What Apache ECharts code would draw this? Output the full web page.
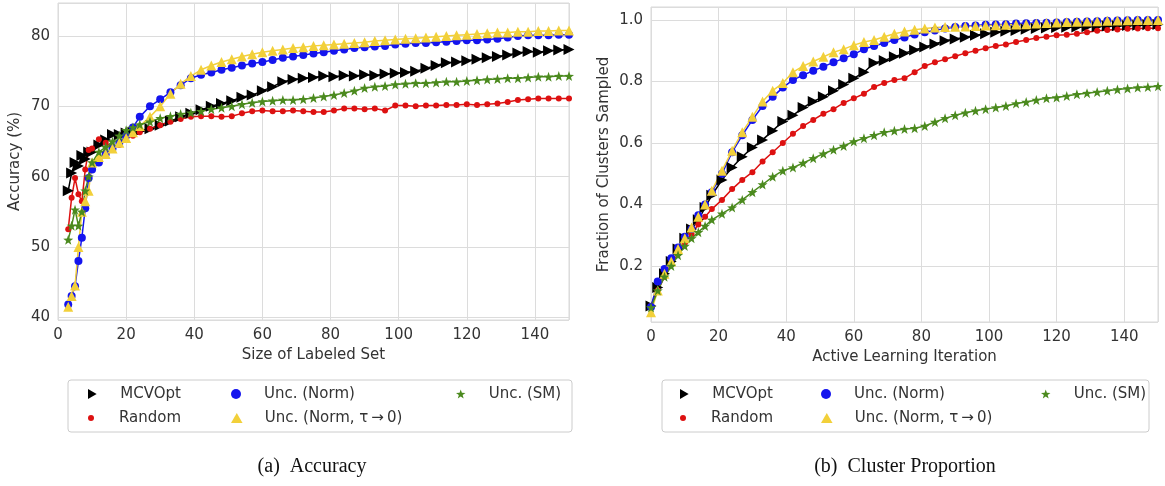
<!DOCTYPE html>
<html>
<head>
<meta charset="utf-8">
<script src="https://cdn.jsdelivr.net/npm/echarts@6/dist/echarts.min.js"></script>
<style>
html, body { margin: 0; padding: 0; background: #fff; }
#chart { width: 1165px; height: 486px; }
</style>
</head>
<body>
<div id="chart"></div>
<script>
// (a) Accuracy vs size of labeled set
const labeledSize = [3, 4, 5, 6, 7, 8, 9, 10, 12, 14, 16, 18, 20, 22, 24, 27, 30, 33, 36, 39, 42, 45, 48, 51, 54, 57, 60, 63, 66, 69, 72, 75, 78, 81, 84, 87, 90, 93, 96, 99, 102, 105, 108, 111, 114, 117, 120, 123, 126, 129, 132, 135, 138, 141, 144, 147, 150];
const accMCVOpt = [58, 60.5, 62, 61.5, 63, 62.5, 63.5, 63.5, 64.5, 65.2, 66, 66, 66.2, 66.3, 66.5, 66.8, 67.3, 67.9, 68.5, 69, 69.5, 70, 70.4, 70.8, 71.3, 71.6, 72.2, 72.8, 73.5, 73.8, 74, 74.1, 74.3, 74.2, 74.4, 74.3, 74.5, 74.4, 74.6, 74.7, 74.8, 75, 75.4, 75.8, 76.2, 76.3, 76.5, 76.7, 76.9, 77.1, 77.3, 77.6, 77.8, 77.7, 77.9, 78, 78.1];
const accRandom = [52.5, 57, 59.8, 57.5, 56.5, 61, 63.8, 64, 65.3, 64.8, 64.2, 64.5, 65.5, 65.8, 66.3, 66.8, 67.3, 67.8, 68.2, 68.5, 68.6, 68.6, 68.5, 68.6, 69, 69.3, 69.4, 69.3, 69.3, 69.4, 69.3, 69.2, 69.2, 69.4, 69.7, 69.7, 69.6, 69.7, 69.4, 70.1, 70.1, 70, 70.1, 70.1, 70.2, 70.2, 70.3, 70.2, 70.3, 70.4, 70.6, 70.9, 71, 71.1, 71.1, 71.1, 71.1];
const accNorm = [41.8, 43, 44.4, 48, 51.3, 55.5, 59.8, 61, 62, 63.2, 64, 64.8, 65.8, 67, 68.5, 70, 71, 72, 73, 74, 74.5, 74.8, 75.2, 75.5, 75.8, 76.1, 76.3, 76.6, 76.9, 77.1, 77.3, 77.5, 77.7, 77.9, 78.1, 78.3, 78.4, 78.5, 78.6, 78.8, 78.9, 79, 79, 79.1, 79.2, 79.3, 79.4, 79.4, 79.5, 79.6, 79.8, 80, 80.1, 80.1, 80.1, 80.2, 80.2];
const accNormT0 = [41.5, 43, 44.5, 50, 55, 56.5, 58, 62, 62.8, 63.2, 64, 64.8, 65.5, 66.3, 67.2, 68.5, 70, 71.8, 73.2, 74.3, 75.2, 75.8, 76.3, 76.7, 77.1, 77.4, 77.7, 77.9, 78.1, 78.3, 78.4, 78.6, 78.7, 78.8, 78.9, 79, 79.1, 79.3, 79.4, 79.5, 79.6, 79.7, 79.8, 79.9, 80, 80.1, 80.2, 80.3, 80.4, 80.5, 80.5, 80.6, 80.6, 80.7, 80.7, 80.8, 80.8];
const accSM = [51, 53, 55.3, 53, 55, 58, 60, 62, 63.5, 64.2, 65, 65.8, 66.6, 67, 67.4, 67.8, 68.3, 68.6, 68.9, 69.1, 69.3, 69.6, 69.8, 70, 70.3, 70.5, 70.7, 70.8, 70.9, 70.9, 71, 71.2, 71.4, 71.6, 71.9, 72.2, 72.6, 72.8, 72.9, 73.1, 73.2, 73.3, 73.3, 73.4, 73.5, 73.5, 73.6, 73.7, 73.8, 73.9, 74, 74, 74.1, 74.2, 74.2, 74.3, 74.3];

// (b) Fraction of clusters sampled vs active learning iteration
const iteration = [0, 2, 4, 6, 8, 10, 12, 14, 16, 18, 21, 24, 27, 30, 33, 36, 39, 42, 45, 48, 51, 54, 57, 60, 63, 66, 69, 72, 75, 78, 81, 84, 87, 90, 93, 96, 99, 102, 105, 108, 111, 114, 117, 120, 123, 126, 129, 132, 135, 138, 141, 144, 147, 150];
const fracMCVOpt = [0.07, 0.13, 0.175, 0.215, 0.255, 0.29, 0.32, 0.35, 0.39, 0.43, 0.48, 0.52, 0.555, 0.585, 0.61, 0.64, 0.67, 0.69, 0.715, 0.735, 0.75, 0.77, 0.79, 0.81, 0.83, 0.86, 0.868, 0.88, 0.892, 0.902, 0.912, 0.922, 0.932, 0.938, 0.944, 0.95, 0.955, 0.96, 0.963, 0.966, 0.97, 0.972, 0.974, 0.975, 0.976, 0.977, 0.978, 0.979, 0.98, 0.981, 0.982, 0.983, 0.984, 0.985];
const fracRandom = [0.07, 0.12, 0.165, 0.205, 0.24, 0.275, 0.305, 0.335, 0.36, 0.385, 0.415, 0.45, 0.48, 0.505, 0.54, 0.57, 0.6, 0.63, 0.655, 0.675, 0.695, 0.71, 0.73, 0.745, 0.76, 0.782, 0.795, 0.805, 0.81, 0.83, 0.85, 0.862, 0.872, 0.882, 0.892, 0.9, 0.908, 0.915, 0.92, 0.928, 0.935, 0.941, 0.945, 0.95, 0.952, 0.955, 0.96, 0.965, 0.967, 0.969, 0.971, 0.972, 0.973, 0.973];
const fracNorm = [0.067, 0.15, 0.19, 0.225, 0.26, 0.295, 0.32, 0.365, 0.4, 0.44, 0.5, 0.57, 0.625, 0.675, 0.72, 0.75, 0.78, 0.805, 0.82, 0.835, 0.848, 0.862, 0.875, 0.888, 0.905, 0.915, 0.925, 0.935, 0.943, 0.953, 0.96, 0.966, 0.972, 0.977, 0.98, 0.982, 0.984, 0.985, 0.986, 0.988, 0.989, 0.99, 0.991, 0.992, 0.993, 0.994, 0.995, 0.996, 0.997, 0.998, 0.999, 1, 1, 1];
const fracNormT0 = [0.05, 0.12, 0.175, 0.215, 0.255, 0.29, 0.325, 0.36, 0.4, 0.445, 0.51, 0.575, 0.635, 0.685, 0.735, 0.77, 0.795, 0.83, 0.85, 0.865, 0.88, 0.895, 0.905, 0.918, 0.928, 0.935, 0.945, 0.955, 0.962, 0.968, 0.972, 0.975, 0.977, 0.978, 0.979, 0.98, 0.982, 0.983, 0.984, 0.985, 0.986, 0.988, 0.99, 0.992, 0.993, 0.994, 0.995, 0.996, 0.997, 0.998, 0.999, 1, 1, 1];
const fracSM = [0.065, 0.12, 0.165, 0.2, 0.235, 0.265, 0.29, 0.31, 0.33, 0.35, 0.37, 0.39, 0.415, 0.44, 0.465, 0.49, 0.51, 0.52, 0.535, 0.55, 0.565, 0.578, 0.59, 0.605, 0.615, 0.625, 0.635, 0.64, 0.645, 0.648, 0.655, 0.668, 0.68, 0.69, 0.698, 0.705, 0.71, 0.715, 0.72, 0.728, 0.733, 0.74, 0.745, 0.748, 0.753, 0.758, 0.762, 0.766, 0.77, 0.774, 0.777, 0.78, 0.782, 0.784];

const methodNames = ['MCVOpt', 'Random', 'Unc. (Norm)', 'Unc. (Norm, τ\u2009→\u20090)', 'Unc. (SM)'];

const FONT = 'DejaVu Sans';
const TRI_RIGHT = 'path://M0,0 L8.66,5 L0,10 Z';
const TRI_UP = 'path://M5,0 L10,8.66 L0,8.66 Z';
const STAR = 'path://M50,0 L61.76,33.82 L97.55,34.55 L69.02,56.18 L79.39,90.45 L50,70 L20.61,90.45 L30.98,56.18 L2.45,34.55 L38.24,33.82 Z';

// marker style per method, same order as methodNames
const styles = [
    { color: '#000000', symbol: TRI_RIGHT, size: 11, legendSize: 10 },
    { color: '#dd1111', symbol: 'circle', size: 6, legendSize: 6 },
    { color: '#1414ee', symbol: 'circle', size: 8, legendSize: 10 },
    { color: '#f2d03a', symbol: TRI_UP, size: 10, legendSize: 10 },
    { color: '#4b8a1e', symbol: STAR, size: 10, legendSize: 9 }
];

const toPairs = (xs, ys) => xs.map((x, i) => [x, ys[i]]);

const accData = [accMCVOpt, accRandom, accNorm, accNormT0, accSM];
const fracData = [fracMCVOpt, fracRandom, fracNorm, fracNormT0, fracSM];

const series = [];
[[labeledSize, accData], [iteration, fracData]].forEach(([xs, sets], gi) => {
    sets.forEach((ys, k) => {
        series.push({
            name: methodNames[k],
            type: 'line',
            xAxisIndex: gi,
            yAxisIndex: gi,
            data: toPairs(xs, ys),
            symbol: styles[k].symbol,
            symbolSize: styles[k].size,
            showAllSymbol: true,
            itemStyle: { color: styles[k].color },
            lineStyle: { color: styles[k].color, width: 1.5 },
            emphasis: { disabled: true },
            animation: false
        });
    });
});

// legend layout: text start x for each column, row centers
const legendCols = [[120, 263, 488], [712, 853, 1073]];
const legendRows = [394, 418];
const legendSlots = [[0, 0], [0, 1], [1, 0], [1, 1], [2, 0]]; // [col, row] per method

const legends = [];
legendCols.forEach(cols => {
    methodNames.forEach((name, k) => {
        const [c, r] = legendSlots[k];
        legends.push({
            data: [{ name: name, icon: styles[k].symbol }],
            left: cols[c] - 32,
            top: legendRows[r] - 9,
            padding: 0,
            itemWidth: 46,
            itemHeight: styles[k].legendSize,
            symbolKeepAspect: true,
            selectedMode: false,
            itemStyle: { color: styles[k].color },
            textStyle: { fontFamily: FONT, fontSize: 15, color: '#333', lineHeight: 18 }
        });
    });
});

const axisLabelStyle = { fontFamily: FONT, fontSize: 15, color: '#333' };
const nameStyle = { fontFamily: FONT, fontSize: 15, color: '#333' };
const gridLine = { show: true, lineStyle: { color: '#dcdcdc', width: 1 } };

const makeX = (gi, name, gap) => ({
    type: 'value',
    gridIndex: gi,
    min: 0,
    max: 150,
    interval: 20,
    name: name,
    nameLocation: 'middle',
    nameGap: gap,
    nameTextStyle: nameStyle,
    axisLine: { show: false },
    axisTick: { show: false },
    axisLabel: Object.assign({ margin: 8, showMaxLabel: false }, axisLabelStyle),
    splitLine: gridLine
});

const chart = echarts.init(document.getElementById('chart'), null, { renderer: 'canvas' });

const option = {
    animation: false,
    grid: [
        { left: 58, top: 3, width: 511, height: 317, show: true, borderColor: '#d9d9d9', borderWidth: 1 },
        { left: 651, top: 7, width: 507, height: 315, show: true, borderColor: '#d9d9d9', borderWidth: 1 }
    ],
    xAxis: [
        makeX(0, 'Size of Labeled Set', 27),
        makeX(1, 'Active Learning Iteration', 28)
    ],
    yAxis: [
        {
            type: 'value',
            gridIndex: 0,
            min: 39.6,
            max: 84.7,
            splitNumber: 5,
            name: 'Accuracy (%)',
            nameLocation: 'middle',
            nameGap: 35,
            nameTextStyle: nameStyle,
            axisLine: { show: false },
            axisTick: { show: false },
            axisLabel: Object.assign({ margin: 8, showMinLabel: false, showMaxLabel: false }, axisLabelStyle),
            splitLine: gridLine
        },
        {
            type: 'value',
            gridIndex: 1,
            min: 0.018,
            max: 1.042,
            splitNumber: 5,
            name: 'Fraction of Clusters Sampled',
            nameLocation: 'middle',
            nameGap: 39,
            nameTextStyle: nameStyle,
            axisLine: { show: false },
            axisTick: { show: false },
            axisLabel: Object.assign({
                margin: 8, showMinLabel: false, showMaxLabel: false,
                formatter: v => v.toFixed(1)
            }, axisLabelStyle),
            splitLine: gridLine
        }
    ],
    legend: legends,
    graphic: [
        {
            type: 'rect', z: -1,
            shape: { x: 68, y: 380, width: 504, height: 52, r: 3 },
            style: { fill: '#fff', stroke: '#cccccc', lineWidth: 1 }
        },
        {
            type: 'rect', z: -1,
            shape: { x: 662, y: 380, width: 487, height: 52, r: 3 },
            style: { fill: '#fff', stroke: '#cccccc', lineWidth: 1 }
        },
        {
            type: 'text', x: 312, y: 467,
            style: { text: '(a)  Accuracy', font: '20px "Liberation Serif"', fill: '#111', textAlign: 'center', textVerticalAlign: 'middle' }
        },
        {
            type: 'text', x: 905, y: 467,
            style: { text: '(b)  Cluster Proportion', font: '20px "Liberation Serif"', fill: '#111', textAlign: 'center', textVerticalAlign: 'middle' }
        }
    ],
    series: series
};

chart.setOption(option);
</script>
</body>
</html>
